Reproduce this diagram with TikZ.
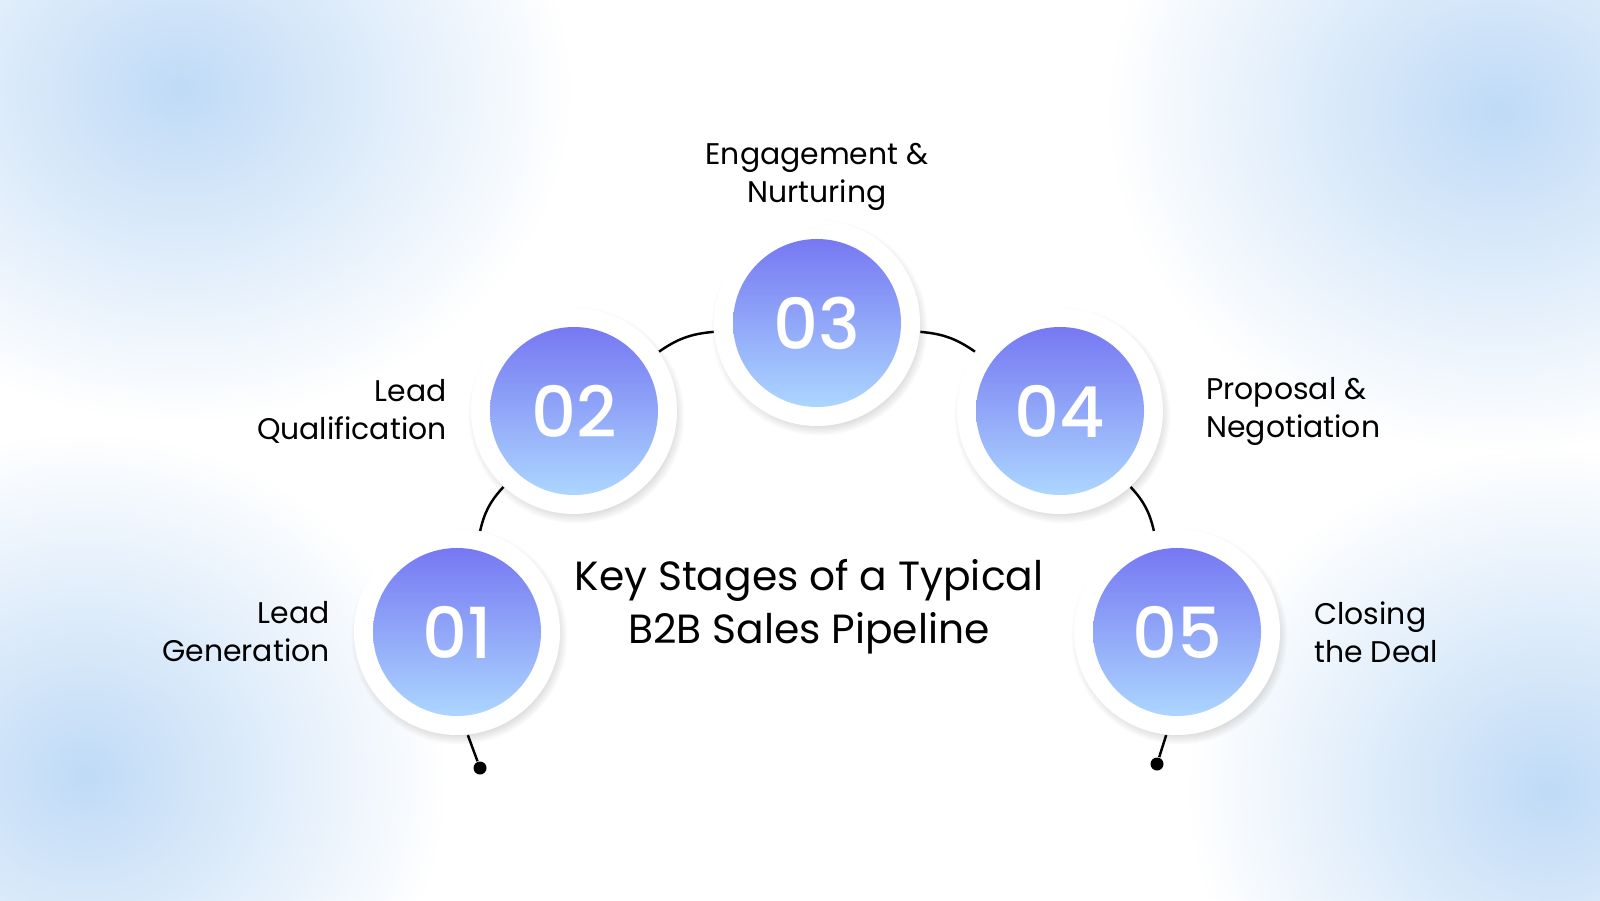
\documentclass[tikz,border=0pt]{standalone}
\usepackage{fontspec}
\setmainfont{Poppins}
\newfontfamily\stagenumfont{Poppins}[UprightFont={* Medium}]
\usetikzlibrary{shadows,fadings,positioning}
\definecolor{stagetop}{RGB}{118,120,242}
\definecolor{stagebottom}{RGB}{172,214,255}
\definecolor{blobblue}{RGB}{192,219,247}
\tikzfading[name=blobfade,inner color=transparent!0,outer color=transparent!100]
\tikzstyle{blob}=[fill=blobblue,path fading=blobfade]
\tikzstyle{stagering}=[circle,fill=white,minimum size=2.06cm,inner sep=0pt,circular drop shadow={shadow scale=1.05,shadow xshift=0.02cm,shadow yshift=-0.04cm,opacity=0.4}]
\tikzstyle{stagedisc}=[circle,minimum size=1.68cm,inner sep=0pt,top color=stagetop,bottom color=stagebottom,text=white,font=\stagenumfont\fontsize{20}{20}\selectfont]
\tikzstyle{stagelabel}=[font=\fontsize{8.5}{10.8}\selectfont,inner sep=0pt]
\tikzstyle{pipetitle}=[font=\fontsize{11.6}{15}\selectfont,align=center,inner sep=0pt]
\tikzstyle{pipeline}=[line width=0.7pt,black]
\tikzstyle{pipeend}=[circle,fill=black,minimum size=0.13cm,inner sep=0pt]

\begin{document}
\begin{tikzpicture}
\useasboundingbox (0cm,0cm) rectangle (16cm,9cm);
\fill[white] (0cm,0cm) rectangle (16cm,9cm);

% soft corners
\begin{scope}
\clip (0cm,0cm) rectangle (16cm,9cm);
\fill[blob] (1.8cm,8.1cm) ellipse (3.9cm and 3.3cm);
\fill[blob] (15cm,7.9cm) ellipse (3.9cm and 3.4cm);
\fill[blob] (0.85cm,1.25cm) ellipse (3.6cm and 3.4cm);
\fill[blob] (15.5cm,1.1cm) ellipse (3.6cm and 3.4cm);
\end{scope}

\node[stagering] (S1) at (4.57cm,2.68cm) {};
\node[stagering] (S2) at (5.74cm,4.89cm) {};
\node[stagering] (S3) at (8.17cm,5.77cm) {};
\node[stagering] (S4) at (10.60cm,4.89cm) {};
\node[stagering] (S5) at (11.77cm,2.68cm) {};

\node[stagedisc] (N1) at (S1) {01};
\node[stagedisc] (N2) at (S2) {02};
\node[stagedisc] (N3) at (S3) {03};
\node[stagedisc] (N4) at (S4) {04};
\node[stagedisc] (N5) at (S5) {05};

\node[pipeend] (E1) at (4.80cm,1.32cm) {};
\node[pipeend] (E5) at (11.57cm,1.36cm) {};

\draw[pipeline] (S1.-84) -- (E1);
\draw[pipeline] (S1) to[bend left=15] (S2);
\draw[pipeline] (S2) to[bend left=15] (S3);
\draw[pipeline] (S3) to[bend left=15] (S4);
\draw[pipeline] (S4) to[bend left=15] (S5);
\draw[pipeline] (S5.-96) -- (E5);

\node[stagelabel,align=right,left=0.23cm of S1] (L1) {Lead\\Generation};
\node[stagelabel,align=right,left=0.23cm of S2] (L2) {Lead\\Qualification};
\node[stagelabel,align=center,above=0.08cm of S3] (L3) {Engagement \&\\Nurturing};
\node[stagelabel,align=left,right=0.42cm of S4] (L4) {Proposal \&\\Negotiation};
\node[stagelabel,align=left,right=0.33cm of S5] (L5) {Closing\\the Deal};

\node[pipetitle] (T) at (8.09cm,2.93cm) {Key Stages of a Typical\\B2B Sales Pipeline};

\end{tikzpicture}
\end{document}
